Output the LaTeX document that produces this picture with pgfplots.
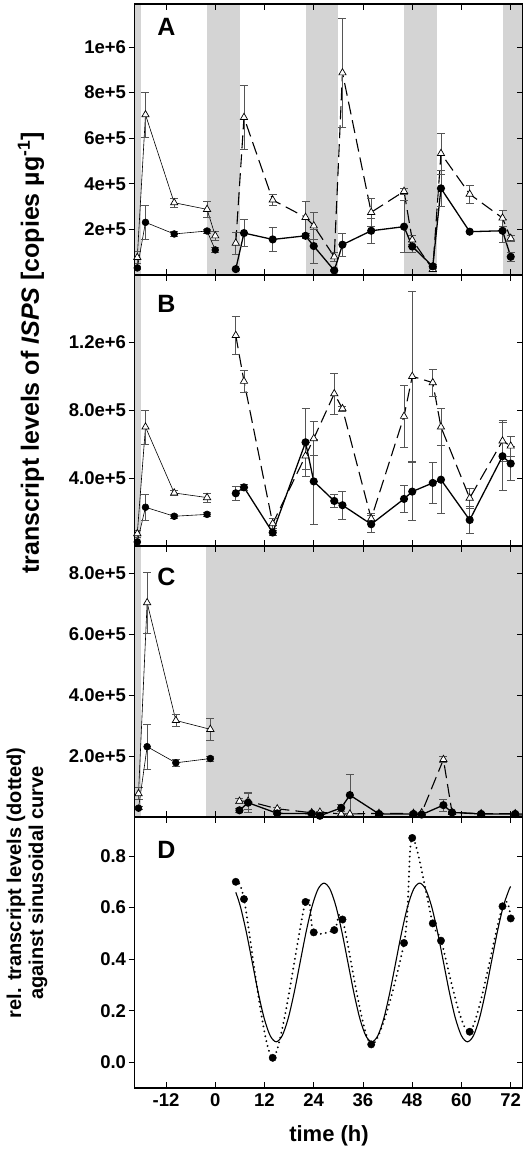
\documentclass[border=0pt]{standalone}
\usepackage{fontspec}
\setmainfont{Liberation Sans}
\usepackage{pgfplots}
\usepackage{pgfplotstable}
\pgfplotsset{compat=1.18}
\definecolor{shade}{RGB}{212,212,212}
\definecolor{ebar}{RGB}{85,85,85}

% ---------- data: panel A ----------
\pgfplotstableread{
x y e
-19 3.1e4 8e3
-17 2.31e5 7.5e4
-10 1.80e5 1e4
-2 1.93e5 8e3
0 1.10e5 1e4
}\Aonec
\pgfplotstableread{
x y e
-19 7.7e4 2.5e4
-17 7.03e5 1.0e5
-10 3.17e5 2e4
-2 2.88e5 3.5e4
0 1.72e5 2e4
}\Aonet
\pgfplotstableread{
x y e
5 2.6e4 5e3
7 1.84e5 6e4
14 1.56e5 5.3e4
22 1.72e5 1e4
24 1.27e5 7.5e4
29 2.0e4 5e3
31 1.33e5 5.2e4
38 1.94e5 5.4e4
46 2.12e5 1.14e5
48 1.25e5 2.5e4
53 3.8e4 8e3
55 3.8e5 8e4
62 1.90e5 0
70 1.94e5 5e4
72 8.0e4 2e4
}\Atwoc
\pgfplotstableread{
x y e
5 1.40e5 4.7e4
7 6.91e5 1.4e5
14 3.29e5 2.3e4
22 2.53e5 7e4
24 2.16e5 6e4
29 8.0e4 2e4
31 8.87e5 2.4e5
38 2.75e5 6e4
46 3.67e5 1.5e4
48 1.54e5 2e4
53 2.5e4 1e4
55 5.33e5 9e4
62 3.55e5 4e4
70 2.5e5 3.5e4
72 1.61e5 1.5e4
}\Atwot
% ---------- data: panel B ----------
\pgfplotstableread{
x y e
-19 2.4e4 5e3
-17 2.28e5 7.5e4
-10 1.75e5 1e4
-2 1.86e5 1e4
}\Bonec
\pgfplotstableread{
x y e
-19 7.3e4 2e4
-17 7.0e5 1.0e5
-10 3.12e5 1.5e4
-2 2.85e5 2.5e4
}\Bonet
\pgfplotstableread{
x y e
5 3.10e5 4e4
7 3.45e5 2e4
14 7.9e4 1.5e4
22 6.10e5 2e5
24 3.80e5 2.5e5
29 2.65e5 4e4
31 2.40e5 8e4
38 1.28e5 5e4
46 2.77e5 8e4
48 3.20e5 1.7e5
53 3.71e5 1.2e5
55 3.90e5 2e5
62 1.53e5 8e4
70 5.28e5 2e5
72 4.85e5 1e5
}\Btwoc
\pgfplotstableread{
x y e
5 1.239e6 1.1e5
7 9.69e5 6.5e4
14 1.32e5 3e4
22 5.3e5 8e4
24 6.32e5 1e5
29 8.96e5 1.2e5
31 8.08e5 1.5e4
38 1.61e5 3e4
46 7.63e5 1.8e5
48 9.98e5 5e5
53 9.61e5 8e4
55 7.0e5 1.1e5
62 2.82e5 6e4
70 6.18e5 1.2e5
72 5.88e5 6e4
}\Btwot
% ---------- data: panel C ----------
\pgfplotstableread{
x y e
-18.7 2.9e4 5e3
-16.6 2.31e5 7.5e4
-9.6 1.78e5 1e4
-1.2 1.92e5 8e3
}\Conec
\pgfplotstableread{
x y e
-18.7 7.7e4 2e4
-16.6 7.04e5 1.0e5
-9.6 3.17e5 2e4
-1.2 2.88e5 3.5e4
}\Conet
\pgfplotstableread{
x y e
5.9 2.2e4 5e3
8.0 4.7e4 3e4
15.1 1.2e4 4e3
23.5 1.1e4 3e3
25.5 4e3 2e3
30.7 3.0e4 1.2e4
32.8 7.2e4 6.8e4
39.9 1.0e4 3e3
48.3 1.0e4 3e3
50.3 8e3 3e3
55.6 3.9e4 2e4
57.7 1.5e4 4e3
64.8 1.0e4 3e3
73.1 1.0e4 3e3
75.1 1.0e4 3e3
}\Ctwoc
\pgfplotstableread{
x y e
5.9 5.2e4 8e3
8.0 5.2e4 2.8e4
15.1 2.7e4 5e3
23.5 1.4e4 3e3
25.5 1.6e4 3e3
30.7 1.0e4 3e3
32.8 1.0e4 3e3
39.9 1.2e4 3e3
48.3 1.2e4 3e3
50.3 1.4e4 3e3
55.6 1.89e5 1e4
57.7 1.5e4 4e3
64.8 1.1e4 3e3
73.1 1.1e4 3e3
75.1 1.0e4 3e3
}\Ctwot
% ---------- data: panel D ----------
\pgfplotstableread{
x y
5 0.700
7 0.633
14 0.018
22 0.622
24 0.504
29 0.513
31 0.554
38 0.070
46 0.463
48 0.870
53 0.539
55 0.472
62 0.119
70 0.605
72 0.558
}\Dpts
\pgfplotstableread{
x y
5 0.6595
6.1125 0.6049
7.569 0.5052
9.025 0.3875
10.481 0.2698
11.9375 0.1701
13.394 0.1034
14.85 0.080
16.306 0.1034
17.7625 0.1701
19.219 0.2698
20.675 0.3875
22.131 0.5052
23.5875 0.6049
25.044 0.6716
26.5 0.695
27.956 0.6716
29.4125 0.6049
30.869 0.5052
32.325 0.3875
33.781 0.2698
35.2375 0.1701
36.694 0.1034
38.15 0.080
39.606 0.1034
41.0625 0.1701
42.519 0.2698
43.975 0.3875
45.431 0.5052
46.8875 0.6049
48.344 0.6716
49.8 0.695
51.256 0.6716
52.7125 0.6049
54.169 0.5052
55.625 0.3875
57.081 0.2698
58.5375 0.1701
59.994 0.1034
61.45 0.080
62.906 0.1034
64.3625 0.1701
65.819 0.2698
67.275 0.3875
68.731 0.5052
70.1875 0.6049
71.644 0.6716
72 0.6815
}\Dsin

\pgfplotsset{
  base/.style={scale only axis, width=388pt, height=271pt,
    xmin=-19.63, xmax=74.92,
    axis line style={line width=1.1pt},
    major tick length=6pt,
    tick style={black, line width=0.9pt},
    xtick={-12,0,12,24,36,48,60,72},
    scaled y ticks=false, scaled x ticks=false},
  inner/.style={base, tick align=inside, xtick pos=both, ytick pos=right,
    yticklabels={}, xticklabels={}, axis on top},
  outer/.style={base, tick align=outside, ytick pos=left, xtick=\empty,
    axis line style={draw=none},
    yticklabel style={font=\fontsize{18.5}{18.5}\selectfont\bfseries, inner sep=2.5pt}},
  ebars/.style={error bars/.cd, y dir=both, y explicit,
    error bar style={ebar, line width=0.6pt, solid},
    error mark options={rotate=90, mark size=4pt, ebar, line width=0.6pt, solid}},
  s1c/.style={black, line width=0.6pt, mark=*, mark size=3.4pt,
    mark options={solid, fill=black}, ebars},
  s1t/.style={black, line width=0.6pt, mark=triangle*, mark size=4.2pt,
    mark options={solid, fill=white, draw=black, line width=0.7pt}, ebars},
  s2c/.style={black, line width=1.3pt, mark=*, mark size=3.4pt,
    mark options={solid, fill=black}, ebars},
  s2t/.style={black, line width=1.1pt, dash pattern=on 13pt off 6pt, mark=triangle*, mark size=4.2pt,
    mark options={solid, fill=white, draw=black, line width=0.7pt}, ebars},
}
\tikzset{letter/.style={anchor=north west, inner sep=0pt, font=\fontsize{25}{25}\selectfont\bfseries}}

\begin{document}
\begin{tikzpicture}
\useasboundingbox (0pt,0pt) rectangle (531pt,-1152pt);

% ================= A =================
\begin{axis}[inner, at={(134.7pt,-4pt)}, anchor=north west,
  ymin=0, ymax=1.1886e6, ytick={2e5,4e5,6e5,8e5,1e6}]
\addplot[draw=none, fill=shade, forget plot] coordinates {(-25,-1e5) (-25,2e6) (-18,2e6) (-18,-1e5)} --cycle;
\addplot[draw=none, fill=shade, forget plot] coordinates {(-2,-1e5) (-2,2e6) (6,2e6) (6,-1e5)} --cycle;
\addplot[draw=none, fill=shade, forget plot] coordinates {(22,-1e5) (22,2e6) (30,2e6) (30,-1e5)} --cycle;
\addplot[draw=none, fill=shade, forget plot] coordinates {(46,-1e5) (46,2e6) (54,2e6) (54,-1e5)} --cycle;
\addplot[draw=none, fill=shade, forget plot] coordinates {(70,-1e5) (70,2e6) (80,2e6) (80,-1e5)} --cycle;
\addplot[s1t] table[x=x,y=y,y error=e] {\Aonet};
\addplot[s1c] table[x=x,y=y,y error=e] {\Aonec};
\addplot[s2t] table[x=x,y=y,y error=e] {\Atwot};
\addplot[s2c] table[x=x,y=y,y error=e] {\Atwoc};
\node[letter] at (rel axis cs:0.058,0.948) {A};
\end{axis}
\begin{axis}[outer, at={(134.7pt,-4pt)}, anchor=north west,
  ymin=0, ymax=1.1886e6, ytick={2e5,4e5,6e5,8e5,1e6},
  yticklabels={2e+5,4e+5,6e+5,8e+5,1e+6}]
\end{axis}

% ================= B =================
\begin{axis}[inner, at={(134.7pt,-275pt)}, anchor=north west,
  ymin=0, ymax=1.594e6, ytick={4e5,8e5,1.2e6}]
\addplot[draw=none, fill=shade, forget plot] coordinates {(-25,-1e5) (-25,2e6) (-18,2e6) (-18,-1e5)} --cycle;
\addplot[s1t] table[x=x,y=y,y error=e] {\Bonet};
\addplot[s1c] table[x=x,y=y,y error=e] {\Bonec};
\addplot[s2t] table[x=x,y=y,y error=e] {\Btwot};
\addplot[s2c] table[x=x,y=y,y error=e] {\Btwoc};
\node[letter] at (rel axis cs:0.058,0.926) {B};
\end{axis}
\begin{axis}[outer, at={(134.7pt,-275pt)}, anchor=north west,
  ymin=0, ymax=1.594e6, ytick={4e5,8e5,1.2e6},
  yticklabels={4.0e+5,8.0e+5,1.2e+6}]
\end{axis}

% ================= C =================
\begin{axis}[inner, at={(134.7pt,-546pt)}, anchor=north west,
  ymin=0, ymax=8.90e5, ytick={2e5,4e5,6e5,8e5}]
\addplot[draw=none, fill=shade, forget plot] coordinates {(-25,-1e5) (-25,2e6) (-18,2e6) (-18,-1e5)} --cycle;
\addplot[draw=none, fill=shade, forget plot] coordinates {(-2.3,-1e5) (-2.3,2e6) (80,2e6) (80,-1e5)} --cycle;
\addplot[s1t] table[x=x,y=y,y error=e] {\Conet};
\addplot[s1c] table[x=x,y=y,y error=e] {\Conec};
\addplot[s2t] table[x=x,y=y,y error=e] {\Ctwot};
\addplot[s2c] table[x=x,y=y,y error=e] {\Ctwoc};
\node[letter] at (rel axis cs:0.058,0.919) {C};
\end{axis}
\begin{axis}[outer, at={(134.7pt,-546pt)}, anchor=north west,
  ymin=0, ymax=8.90e5, ytick={2e5,4e5,6e5,8e5},
  yticklabels={2.0e+5,4.0e+5,6.0e+5,8.0e+5}]
\end{axis}

% ================= D =================
\begin{axis}[base, tick align=inside, xtick pos=both, ytick pos=right, yticklabels={}, axis on top,
  at={(134.7pt,-817pt)}, anchor=north west,
  ymin=-0.099, ymax=0.951, ytick={0,0.2,0.4,0.6,0.8},
  xticklabels={-12,0,12,24,36,48,60,72},
  xticklabel style={font=\fontsize{18.5}{18.5}\selectfont\bfseries, inner sep=2pt, yshift=-3pt}]
\addplot[black, line width=1.1pt, smooth, no marks] table[x=x,y=y] {\Dsin};
\addplot[black, line width=2.1pt, smooth, no marks, line cap=round, dash pattern=on 0.01pt off 5pt] table[x=x,y=y] {\Dpts};
\addplot[only marks, mark=*, mark size=3.7pt, black] table[x=x,y=y] {\Dpts};
\node[letter] at (rel axis cs:0.058,0.911) {D};
\end{axis}
\begin{axis}[outer, at={(134.7pt,-817pt)}, anchor=north west,
  ymin=-0.099, ymax=0.951, ytick={0,0.2,0.4,0.6,0.8},
  yticklabels={0.0,0.2,0.4,0.6,0.8}]
\end{axis}

% ================= labels =================
\node[rotate=90, font=\fontsize{25}{25}\selectfont\bfseries] at (31pt,-353pt)
  {transcript levels of \textit{ISPS} [copies µg\textsuperscript{-1}]};
\node[rotate=90, align=center, font=\fontsize{20}{22}\selectfont\bfseries] at (27pt,-883pt)
  {rel. transcript levels (dotted)\\against sinusoidal curve};
\node[font=\fontsize{22}{22}\selectfont\bfseries] at (329pt,-1136pt) {time (h)};
\end{tikzpicture}
\end{document}
